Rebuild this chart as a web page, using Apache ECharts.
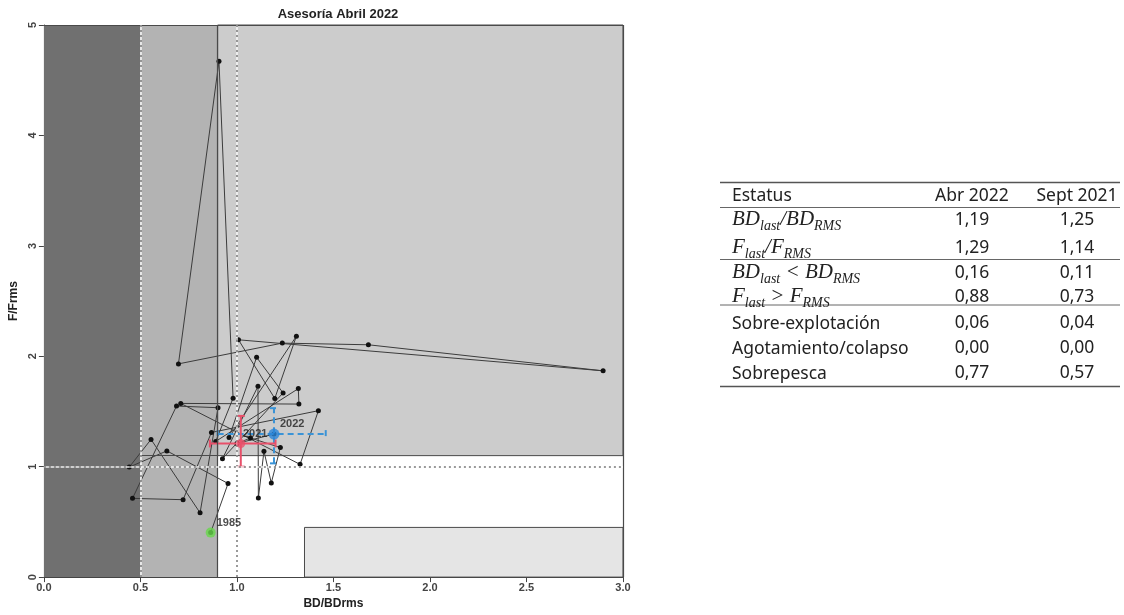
<!DOCTYPE html>
<html>
<head>
<meta charset="utf-8">
<script src="https://cdn.jsdelivr.net/npm/echarts@6/dist/echarts.min.js"></script>
<style>
  html, body { margin: 0; padding: 0; background: #fff; }
  #kobe-chart { width: 1124px; height: 615px; }
</style>
</head>
<body>
<div id="kobe-chart"></div>
<script>
// trayectoria BD/BDrms vs F/Frms, 1985-2022
var years = [1985, 1986, 1987, 1988, 1989, 1990, 1991, 1992, 1993, 1994, 1995, 1996, 1997,
  1998, 1999, 2000, 2001, 2002, 2003, 2004, 2005, 2006, 2007, 2008, 2009, 2010, 2011, 2012,
  2013, 2014, 2015, 2016, 2017, 2018, 2019, 2020, 2021, 2022];
var bdRatio = [0.864, 0.954, 0.637, 0.442, 0.555, 0.809, 0.902, 0.687, 0.459, 0.721, 0.868, 1.422, 1.327,
  0.709, 1.321, 1.318, 0.890, 0.980, 0.907, 0.697, 1.235, 1.681, 2.897, 1.008, 1.196, 1.308, 0.959, 1.102,
  1.239, 0.925, 1.109, 1.111, 1.140, 1.178, 1.225, 1.070, 1.000, 1.192];
var fRatio = [0.403, 0.848, 1.143, 0.996, 1.247, 0.582, 1.534, 1.549, 0.713, 0.701, 1.310, 1.507, 1.021,
  1.573, 1.567, 1.707, 1.229, 1.620, 4.671, 1.931, 2.119, 2.104, 1.868, 2.149, 1.618, 2.182, 1.265, 1.990,
  1.668, 1.072, 1.728, 0.716, 1.140, 0.853, 1.173, 1.260, 1.210, 1.295];
var labelledYears = [1985, 2021, 2022];

// estimacion anterior (rojo) y actual (azul) con intervalos
var prevPoint = [1.02, 1.21];
var prevBdCI = [0.86, 1.20];
var prevFCI = [1.00, 1.46];
var lastPoint = [1.192, 1.295];
var lastBdCI = [0.90, 1.46];
var lastFCI = [1.03, 1.53];

// zonas del diagrama de fases
var zoneCollapse = [[0, 0], [0.5, 5]];
var zoneOverexploit = [[0.5, 0], [0.9, 5]];
var zoneOverfishing = [[0.9, 1.1], [3, 5]];
var zoneLowF = [[1.35, 0], [3, 0.45]];

// tabla de estatus
var tableHeader = ['Estatus', 'Abr 2022', 'Sept 2021'];
var tableLabels = [
  '{m|BD}{s|last}{m|/BD}{s|RMS}',
  '{m|F}{s|last}{m|/F}{s|RMS}',
  '{m|BD}{s|last}{m| < BD}{s|RMS}',
  '{m|F}{s|last}{m| > F}{s|RMS}',
  'Sobre-explotación',
  'Agotamiento/colapso',
  'Sobrepesca'
];
var abr2022 = ['1,19', '1,29', '0,16', '0,88', '0,06', '0,00', '0,77'];
var sept2021 = ['1,25', '1,14', '0,11', '0,73', '0,04', '0,00', '0,57'];

var chart = echarts.init(document.getElementById('kobe-chart'));

var trajectory = years.map(function (y, i) { return [bdRatio[i], fRatio[i]]; });
var labelled = years.map(function (y, i) {
  return labelledYears.indexOf(y) >= 0 ? { value: [bdRatio[i], fRatio[i]], name: String(y) } : null;
}).filter(function (d) { return d; });

function area(z, color, border) {
  return [
    { coord: z[0], itemStyle: { color: color, borderColor: border || color, borderWidth: border ? 1 : 0 } },
    { coord: z[1] }
  ];
}

function seg(a, b, style) {
  return [{ coord: a, lineStyle: style }, { coord: b }];
}

var dotWhite = { color: '#ffffff', width: 1.5, type: 'solid', opacity: 0.9 };
var dotGray = { color: '#7a7a7a', width: 1.5, type: [2, 3] };
var solidDark = { color: '#4a4a4a', width: 1.2, type: 'solid' };

function ciRender(color, dash) {
  return function (params, api) {
    var x = api.value(0), y = api.value(1);
    var l = api.coord([api.value(2), y]);
    var r = api.coord([api.value(3), y]);
    var b = api.coord([x, api.value(4)]);
    var t = api.coord([x, api.value(5)]);
    var cap = 4;
    var st = { stroke: color, lineWidth: 2, lineDash: dash };
    function ln(x1, y1, x2, y2) {
      return { type: 'line', shape: { x1: x1, y1: y1, x2: x2, y2: y2 }, style: st };
    }
    return {
      type: 'group',
      children: [
        ln(l[0], l[1], r[0], r[1]),
        ln(b[0], b[1], t[0], t[1]),
        ln(l[0], l[1] - cap, l[0], l[1] + cap),
        ln(r[0], r[1] - cap, r[0], r[1] + cap),
        ln(b[0] - cap, b[1], b[0] + cap, b[1]),
        ln(t[0] - cap, t[1], t[0] + cap, t[1])
      ]
    };
  };
}

// tabla como elementos graficos
var colX = [732, 972, 1077];
var rowY = [220, 248, 273, 297, 323, 348, 373];
var tableFont = '17.5px "Noto Sans", sans-serif';
var tableGraphic = [];
[182.5, 386.5].forEach(function (y) {
  tableGraphic.push({ type: 'line', shape: { x1: 720, y1: y, x2: 1120, y2: y }, style: { stroke: '#555', lineWidth: 1.4 } });
});
[207.5, 259.5, 305].forEach(function (y) {
  tableGraphic.push({ type: 'line', shape: { x1: 720, y1: y, x2: 1120, y2: y }, style: { stroke: '#666', lineWidth: 1 } });
});
tableHeader.forEach(function (h, i) {
  tableGraphic.push({
    type: 'text', x: colX[i], y: 196,
    style: { text: h, font: tableFont, fill: '#222', textAlign: i === 0 ? 'left' : 'center', textVerticalAlign: 'middle' }
  });
});
tableLabels.forEach(function (lab, i) {
  tableGraphic.push({
    type: 'text', x: colX[0], y: rowY[i] + 1,
    style: {
      text: lab, font: tableFont, fill: '#222', textAlign: 'left', textVerticalAlign: 'middle',
      rich: {
        m: { fontFamily: '"Liberation Serif", serif', fontStyle: 'italic', fontSize: 21, padding: [0, 0, 3, 0], verticalAlign: 'bottom' },
        s: { fontFamily: '"Liberation Serif", serif', fontStyle: 'italic', fontSize: 14, verticalAlign: 'bottom' }
      }
    }
  });
  tableGraphic.push({
    type: 'text', x: colX[1], y: rowY[i],
    style: { text: abr2022[i], font: tableFont, fill: '#222', textAlign: 'center', textVerticalAlign: 'middle' }
  });
  tableGraphic.push({
    type: 'text', x: colX[2], y: rowY[i],
    style: { text: sept2021[i], font: tableFont, fill: '#222', textAlign: 'center', textVerticalAlign: 'middle' }
  });
});

var axisFont = { fontFamily: '"Liberation Sans", Arial, sans-serif', fontWeight: 'bold', fontSize: 11, color: '#444' };

var option = {
  animation: false,
  backgroundColor: '#ffffff',
  title: {
    text: 'Asesoría Abril 2022',
    left: 333,
    top: 3,
    textAlign: 'center',
    textStyle: { fontFamily: '"Liberation Sans", Arial, sans-serif', fontWeight: 'bold', fontSize: 13, color: '#222' }
  },
  grid: { left: 43, top: 25, width: 580, height: 559, show: false },
  xAxis: {
    type: 'value', min: 0, max: 3, interval: 0.5,
    name: 'BD/BDrms', nameLocation: 'middle', nameGap: 17,
    nameTextStyle: { fontFamily: '"Liberation Sans", Arial, sans-serif', fontWeight: 'bold', fontSize: 12, color: '#222' },
    axisLine: { show: true, lineStyle: { color: '#444', width: 1 } },
    axisTick: { show: true, length: 5, lineStyle: { color: '#444' } },
    axisLabel: Object.assign({ margin: 5, formatter: function (v) { return v.toFixed(1); } }, axisFont),
    splitLine: { show: false }
  },
  yAxis: {
    type: 'value', min: 0, max: 5, interval: 1,
    name: 'F/Frms', nameLocation: 'middle', nameGap: 22,
    nameTextStyle: { fontFamily: '"Liberation Sans", Arial, sans-serif', fontWeight: 'bold', fontSize: 12, color: '#222' },
    axisLine: { show: true, lineStyle: { color: '#444', width: 1 } },
    axisTick: { show: true, length: 5, lineStyle: { color: '#444' } },
    axisLabel: Object.assign({ margin: 5, rotate: 90 }, axisFont),
    splitLine: { show: false }
  },
  graphic: tableGraphic,
  series: [
    {
      type: 'scatter',
      z: 1,
      silent: true,
      symbolSize: 0,
      data: [[0, 0]],
      itemStyle: { opacity: 0 },
      markArea: {
        silent: true,
        data: [
          area(zoneCollapse, '#707070'),
          area(zoneOverexploit, '#b3b3b3'),
          area(zoneOverfishing, '#cccccc', '#4a4a4a'),
          area(zoneLowF, '#e5e5e5', '#4a4a4a')
        ]
      },
      markLine: {
        silent: true,
        symbol: ['none', 'none'],
        label: { show: false },
        data: [
          seg([0.9, 0], [0.9, 5], solidDark),
          seg([0.5, 1.1], [0.9, 1.1], solidDark),
          seg([0, 5], [3, 5], solidDark),
          seg([3, 0], [3, 5], solidDark),
          seg([0.5, 0], [0.5, 5], dotWhite),
          seg([0.5, 0], [0.5, 5], dotGray),
          seg([1, 0], [1, 5], dotWhite),
          seg([1, 0], [1, 5], dotGray),
          seg([0, 1], [3, 1], dotWhite),
          seg([0, 1], [3, 1], dotGray)
        ]
      }
    },
    {
      type: 'line',
      z: 3,
      data: trajectory,
      symbol: 'circle',
      symbolSize: 5,
      itemStyle: { color: '#111' },
      lineStyle: { color: '#3c3c3c', width: 1 }
    },
    {
      type: 'custom',
      z: 4,
      renderItem: ciRender('#3a93d6', [6, 4]),
      data: [[lastPoint[0], lastPoint[1], lastBdCI[0], lastBdCI[1], lastFCI[0], lastFCI[1]]]
    },
    {
      type: 'custom',
      z: 4,
      renderItem: ciRender('#e8506a', null),
      data: [[prevPoint[0], prevPoint[1], prevBdCI[0], prevBdCI[1], prevFCI[0], prevFCI[1]]]
    },
    {
      type: 'scatter',
      z: 5,
      symbolSize: 9,
      data: [prevPoint],
      itemStyle: { color: '#e8506a' }
    },
    {
      type: 'scatter',
      z: 5,
      data: [
        { value: [bdRatio[0], fRatio[0]], symbolSize: 10, itemStyle: { color: '#66d84a' } },
        { value: lastPoint, symbolSize: 11, itemStyle: { color: '#2a85d8' } }
      ]
    },
    {
      type: 'scatter',
      z: 6,
      symbolSize: 0,
      data: labelled,
      label: {
        show: true,
        position: 'right',
        distance: 6,
        offset: [0, -10],
        formatter: '{b}',
        fontFamily: '"Liberation Sans", Arial, sans-serif',
        fontWeight: 'bold',
        fontSize: 11,
        color: '#222'
      }
    }
  ]
};

chart.setOption(option);
</script>
</body>
</html>
